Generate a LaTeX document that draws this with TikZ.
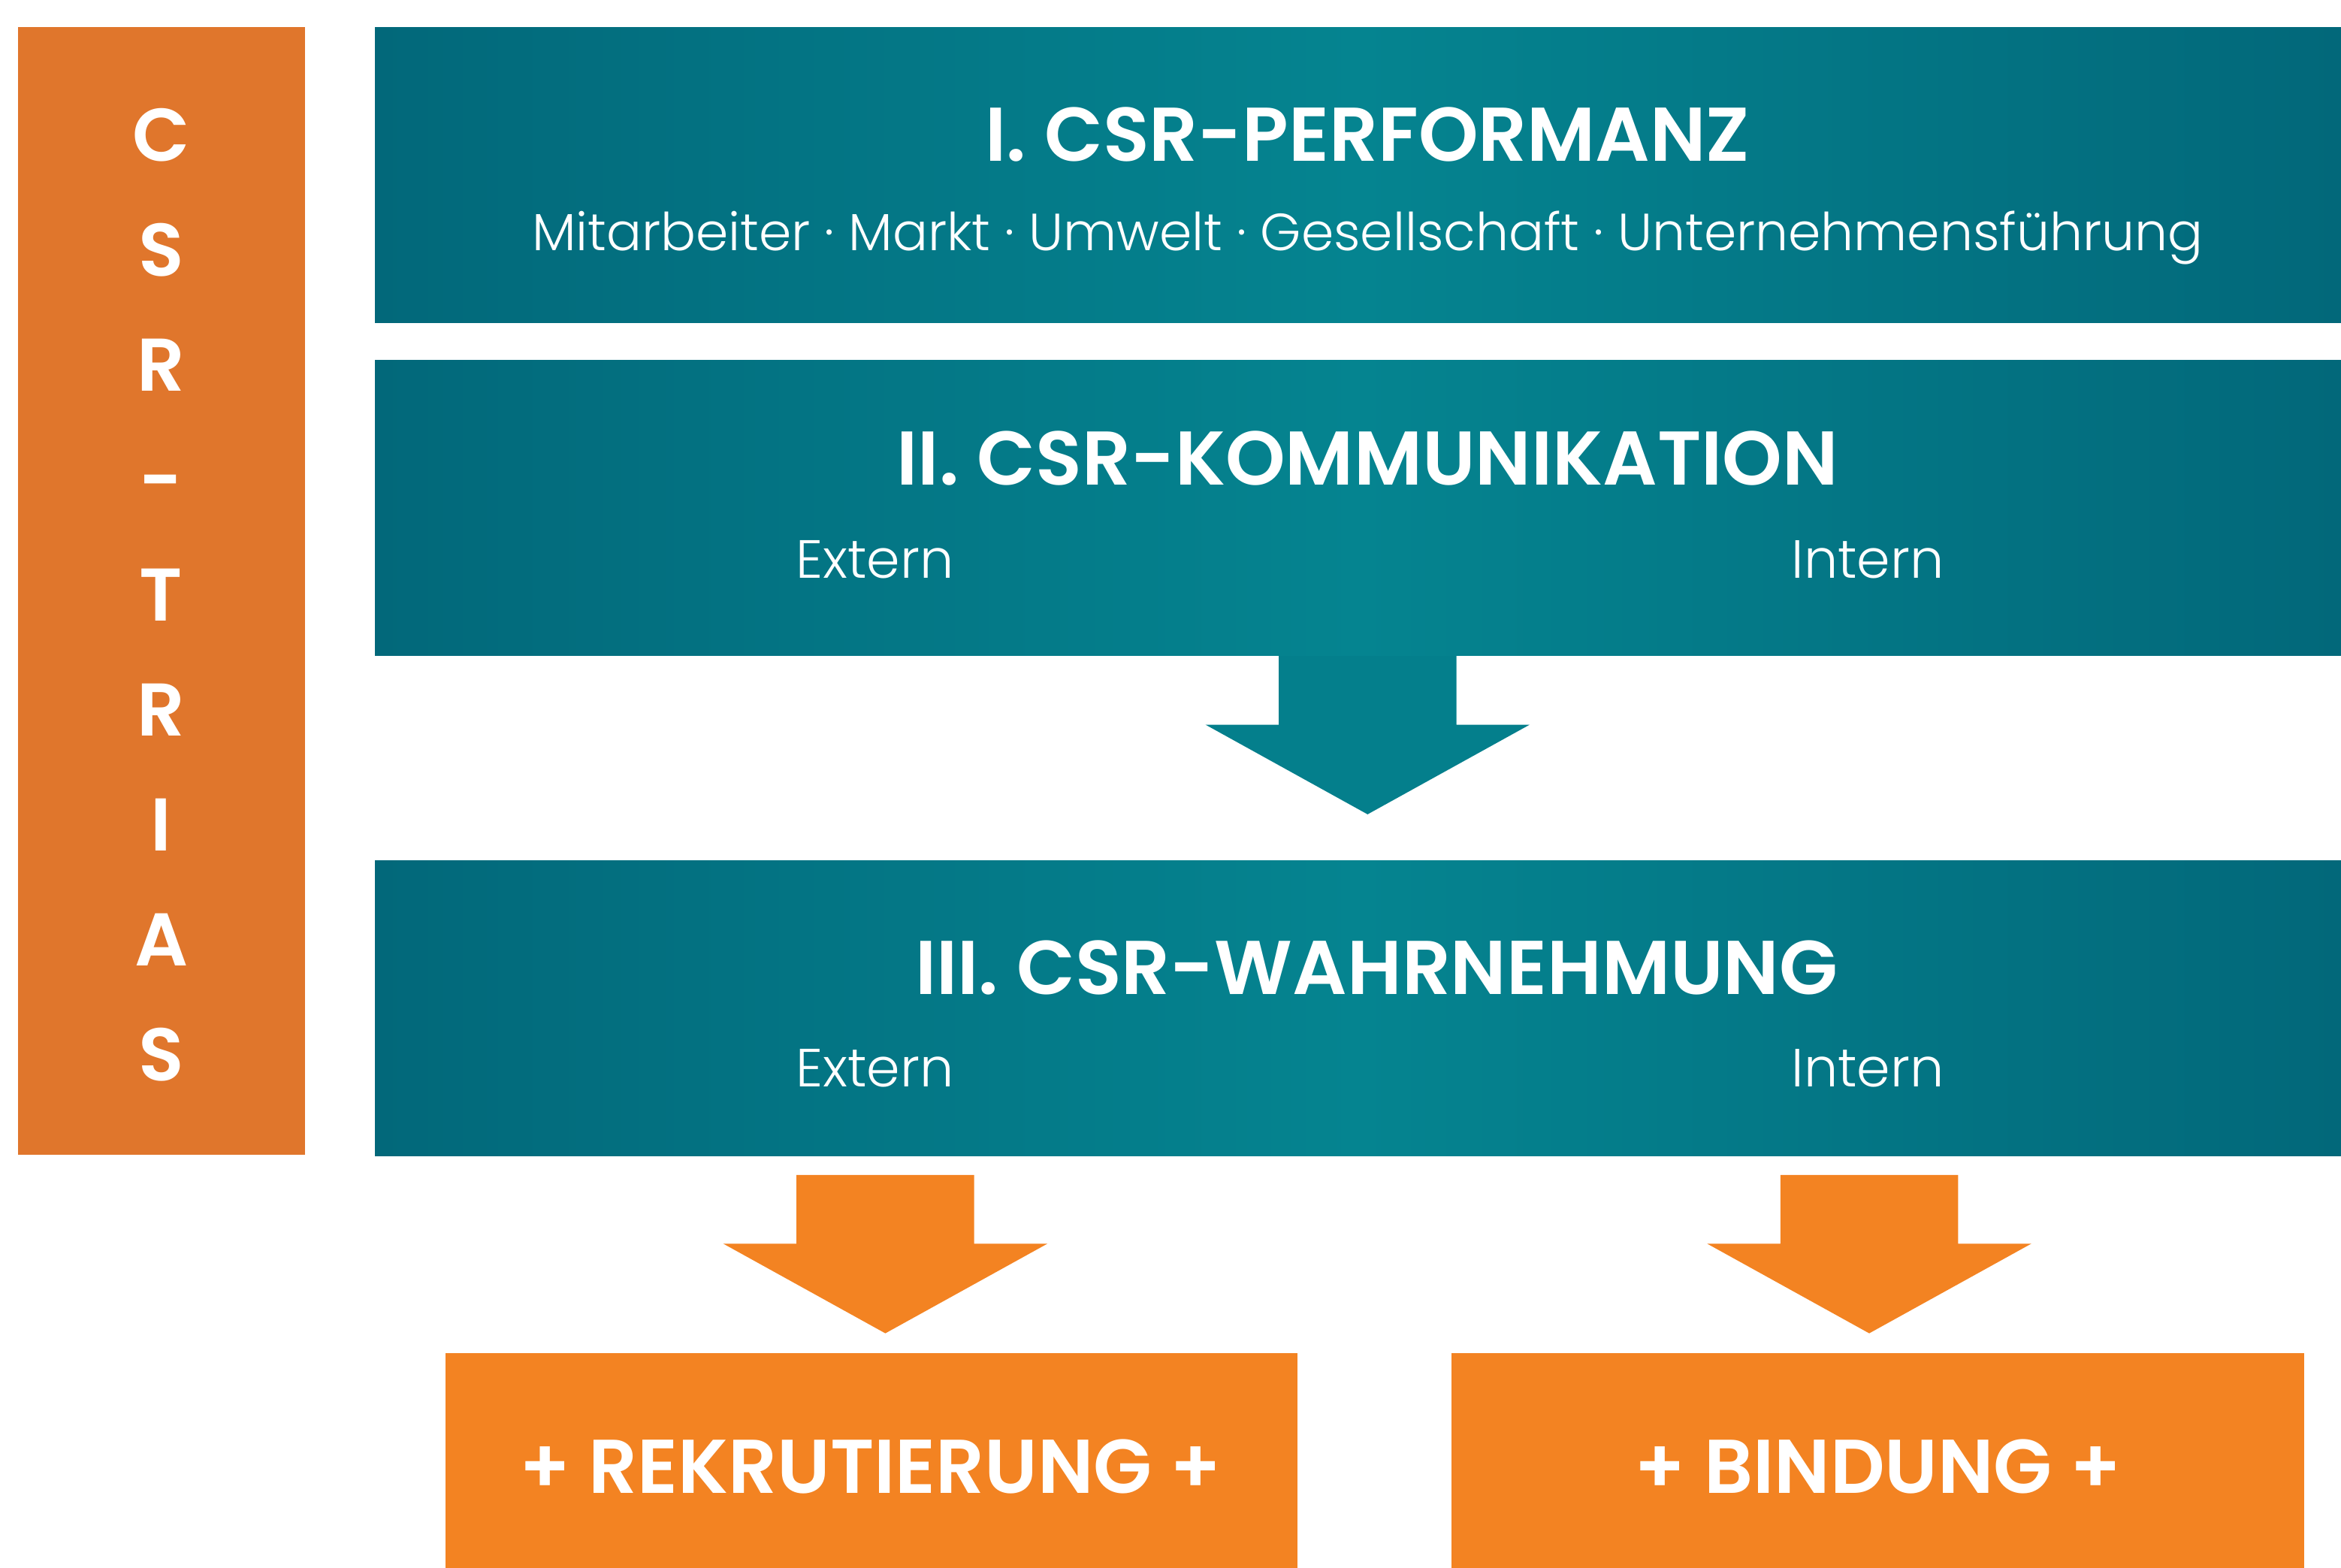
\documentclass[tikz,border=0pt]{standalone}
\usepackage{fontspec}
\setmainfont{Poppins}[UprightFont=* Light, BoldFont=* SemiBold]
\usetikzlibrary{positioning}

\definecolor{tealedge}{HTML}{02687A}
\definecolor{tealmid}{HTML}{058490}
\definecolor{tealarrow}{HTML}{047F8C}
\definecolor{sideorange}{HTML}{E0762C}
\definecolor{boxorange}{HTML}{F38322}

\tikzset{
  blockarrow/.pic={
    \fill (-59.5,0) -- (59.5,0) -- (59.5,46) -- (108.5,46) -- (0,106)
      -- (-108.5,46) -- (-59.5,46) -- cycle;
  }
}

\begin{document}
\begin{tikzpicture}[x=1pt,y=-1pt,
  box/.style={rectangle,inner sep=0pt,anchor=north west},
  teal box/.style={box,left color=tealedge,right color=tealedge,middle color=tealmid,
    minimum width=1317pt,minimum height=198pt},
  orange box/.style={box,fill=boxorange,minimum width=571pt,minimum height=160pt},
  head/.style={text=white,anchor=base,font=\fontsize{51}{58}\selectfont\bfseries},
  sub/.style={text=white,anchor=base,font=\fontsize{36}{42}\selectfont},
  side letter/.style={text=white,anchor=base,font=\fontsize{50}{56}\selectfont\bfseries}]

  \useasboundingbox (0,0) rectangle (1568,1050);

  % CSR-Trias column
  \node[box,fill=sideorange,minimum width=192pt,minimum height=755pt] (trias) at (12,18) {};
  \foreach \ch [count=\i from 0] in {C,S,R,-,T,R,I,A,S}
    \node[side letter] (trias\i) at (108,108+77*\i) {\ch};

  % the three stages
  \node[teal box] (perf) at (251,18) {};
  \node[teal box] (komm) at (251,241) {};
  \node[teal box] (wahr) at (251,576) {};

  \node[head] (perftitle) at (916,108) {I. CSR-PERFORMANZ};
  \node[sub,font=\fontsize{35}{42}\selectfont] (perfsub) at (916,168)
    {Mitarbeiter · Markt · Umwelt · Gesellschaft · Unternehmensführung};

  \node[head] (kommtitle) at (916,325) {II. CSR-KOMMUNIKATION};
  \node[sub] (kommext) at (586,387) {Extern};
  \node[sub] (kommint) at (1251,387) {Intern};

  \node[head] (wahrtitle) at (922,666) {III. CSR-WAHRNEHMUNG};
  \node[sub] (wahrext) at (586,728) {Extern};
  \node[sub] (wahrint) at (1251,728) {Intern};

  % outcomes
  \node[orange box] (rekr) at (298,906) {};
  \node[orange box] (bind) at (972,906) {};
  \node[head] (rekrtext) at (583,1000) {+ REKRUTIERUNG +};
  \node[head] (bindtext) at (1258,1000) {+ BINDUNG +};

  % arrows
  \pic[fill=tealarrow] at (kommtitle |- komm.south) {blockarrow};
  \pic[fill=boxorange] at (593,787) {blockarrow};
  \pic[fill=boxorange] at (1252,787) {blockarrow};
\end{tikzpicture}
\end{document}
